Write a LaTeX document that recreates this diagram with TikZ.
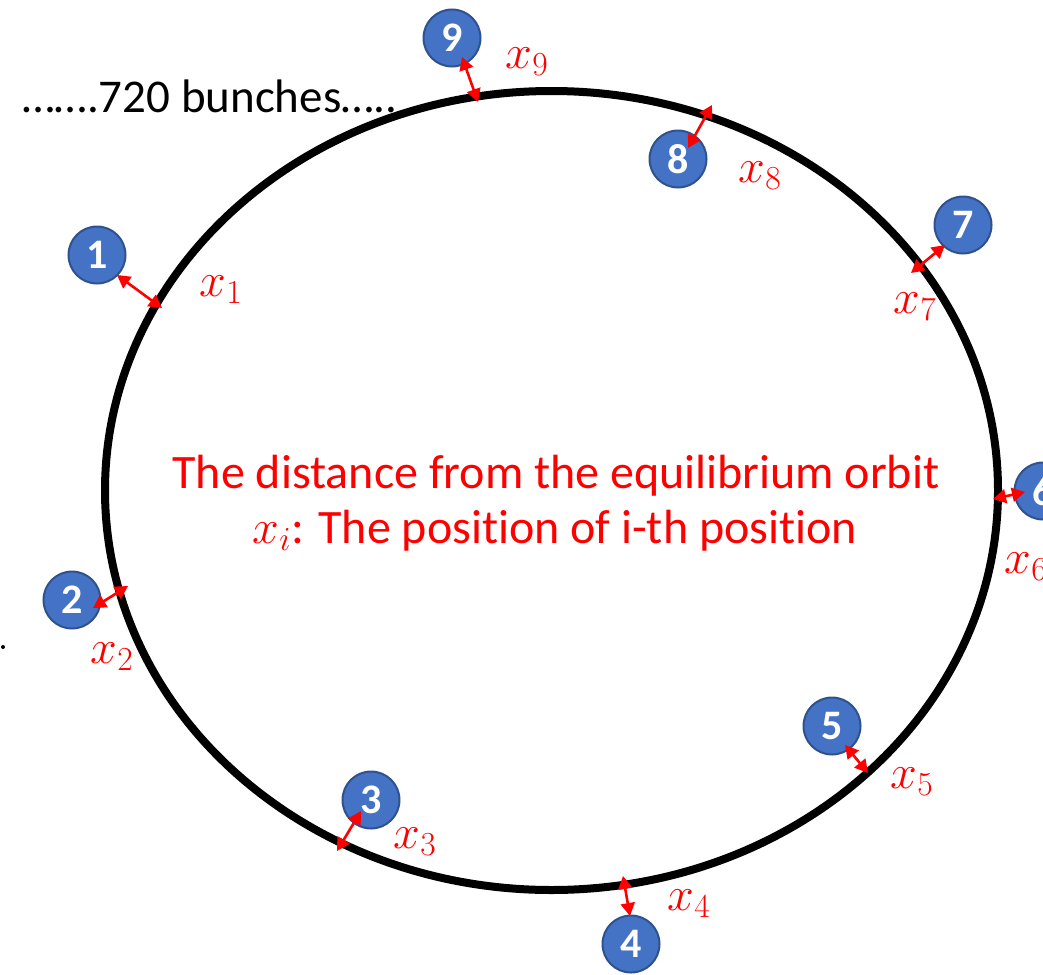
\documentclass[tikz,border=0pt]{standalone}
\usepackage{fix-cm}
\usepackage{fontspec}
\setmainfont[Ligatures=NoCommon]{Carlito}
\usetikzlibrary{shapes.geometric,arrows.meta}
\definecolor{bubble}{HTML}{4472C4}
\definecolor{bubbleedge}{HTML}{2F528F}
\definecolor{lred}{HTML}{FF0000}
\tikzset{
  bunch/.style={circle,fill=bubble,draw=bubbleedge,line width=2pt,minimum size=57pt,inner sep=0pt,text=white,font=\fontsize{42}{44}\selectfont\bfseries},
  dist/.style={lred,line width=2.6pt,{Triangle[length=13pt,width=14pt]}-{Triangle[length=13pt,width=14pt]}},
  xlab/.style={text=lred,font=\fontsize{48}{56}\selectfont,inner sep=0pt},
}
\begin{document}
\begin{tikzpicture}[x=1pt,y=-1pt]
\useasboundingbox (0,0) rectangle (1043,974);
\node[draw,ellipse,line width=8pt,minimum width=893pt,minimum height=799pt,inner sep=0pt] (orbit) at (551.5,490.5) {};
% bunches
\node[bunch] (b1) at (97,255) {1};
\node[bunch] (b2) at (72,600) {2};
\node[bunch] (b3) at (371,800) {3};
\node[bunch] (b4) at (631,944) {4};
\node[bunch] (b5) at (832,726) {5};
\node[bunch] (b6) at (1043,491) {6};
\node[bunch] (b7) at (963,225) {7};
\node[bunch] (b8) at (678,159) {8};
\node[bunch] (b9) at (452,38) {9};
% arrow ends
\coordinate (a1) at (117,275); \coordinate (e1) at (162,308);
\coordinate (a2) at (93,608);  \coordinate (e2) at (128,586);
\coordinate (a3) at (361,811); \coordinate (e3) at (337,851);
\coordinate (a4) at (630,916); \coordinate (e4) at (623,876);
\coordinate (a5) at (845,745); \coordinate (e5) at (868,773);
\coordinate (a6) at (1025,492);\coordinate (e6) at (993,499);
\coordinate (a7) at (945,245); \coordinate (e7) at (911,273);
\coordinate (a8) at (688,148); \coordinate (e8) at (712,105);
\coordinate (a9) at (462,57);  \coordinate (e9) at (478,102);
\foreach \i in {1,...,9} {\draw[dist] (a\i) -- (e\i);}
% labels
\node[xlab] (l9) at (527,62) {$x_9$};
\node[xlab] (l8) at (760,176) {$x_8$};
\node[xlab] (l1) at (221,290) {$x_1$};
\node[xlab] (l7) at (915,307) {$x_7$};
\node[xlab] (l6) at (1026,567) {$x_6$};
\node[xlab] (l2) at (112,657) {$x_2$};
\node[xlab] (l5) at (912,782) {$x_5$};
\node[xlab] (l3) at (415,842) {$x_3$};
\node[xlab] (l4) at (689,904) {$x_4$};
% texts
\node[anchor=base west,inner sep=0pt,font=\fontsize{47}{56}\selectfont] (count) at (22,112) {…….720 bunches…..};
\node[anchor=base,inner sep=0pt,text=lred,font=\fontsize{48}{58}\selectfont] (t1) at (556,488) {The distance from the equilibrium orbit};
\node[anchor=base,inner sep=0pt,text=lred,font=\fontsize{48}{58}\selectfont] (t2) at (555,543) {$x_i$: The position of i-th position};
\fill (3,647) circle (2pt);
\end{tikzpicture}
\end{document}
